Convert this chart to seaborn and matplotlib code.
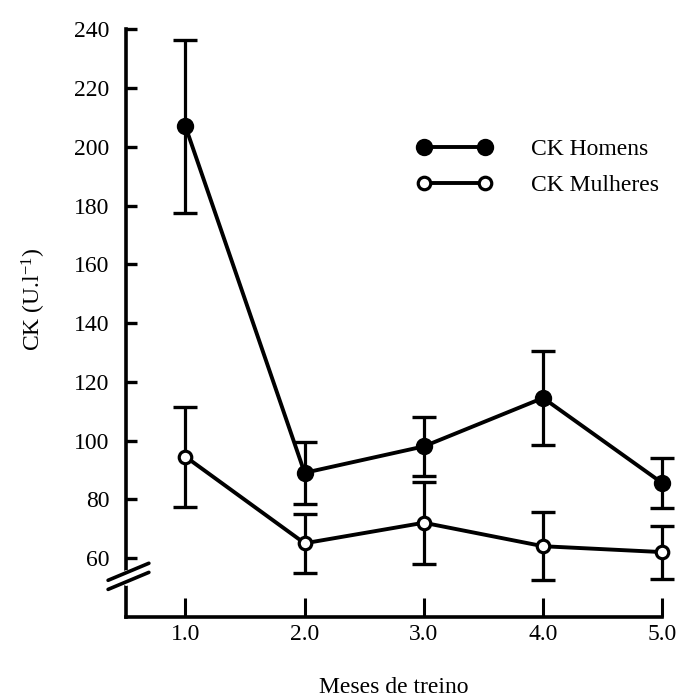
import numpy as np
import pandas as pd
import matplotlib
matplotlib.use("Agg")
import matplotlib.pyplot as plt
import matplotlib.transforms as mtransforms
from matplotlib.lines import Line2D
import seaborn as sns

# Creatine kinase over the training months
meses = [1.0, 2.0, 3.0, 4.0, 5.0]
ck_homens = [207, 89, 98, 114.5, 85.5]
ck_homens_err = [29.5, 10.5, 10, 16, 8.5]
ck_mulheres = [94.5, 65, 72, 64, 62]
ck_mulheres_err = [17, 10, 14, 11.5, 9]
y_ticks = [60, 80, 100, 120, 140, 160, 180, 200, 220, 240]
x_ticks = [1.0, 2.0, 3.0, 4.0, 5.0]

sns.set_theme(style="ticks")
plt.rcParams["font.family"] = ["Liberation Serif", "DejaVu Serif"]
plt.rcParams["mathtext.fontset"] = "custom"
plt.rcParams["mathtext.rm"] = "Liberation Serif"
plt.rcParams["mathtext.it"] = "Liberation Serif:italic"
plt.rcParams["text.color"] = "black"
plt.rcParams["axes.labelcolor"] = "black"
plt.rcParams["xtick.color"] = "black"
plt.rcParams["ytick.color"] = "black"
plt.rcParams["axes.edgecolor"] = "black"

df_h = pd.DataFrame({"mes": meses, "ck": ck_homens, "err": ck_homens_err})
df_m = pd.DataFrame({"mes": meses, "ck": ck_mulheres, "err": ck_mulheres_err})

fig = plt.figure(figsize=(6.8, 7.0), dpi=100)
ax = fig.add_axes([0.185, 0.119, 0.789, 0.839])

lw = 2.8
for d in (df_h, df_m):
    eb = ax.errorbar(d["mes"], d["ck"], yerr=d["err"], fmt="none",
                     ecolor="black", elinewidth=2.3, capsize=8.5,
                     capthick=2.4, zorder=2)
    for artist in eb.lines[1] + eb.lines[2]:
        artist.set_clip_on(False)

sns.lineplot(data=df_h, x="mes", y="ck", ax=ax, color="black", linewidth=lw,
             marker="o", markersize=11, markerfacecolor="black",
             markeredgecolor="black", markeredgewidth=1.5, label="CK Homens",
             zorder=3, clip_on=False)
sns.lineplot(data=df_m, x="mes", y="ck", ax=ax, color="black", linewidth=lw,
             marker="o", markersize=9, markerfacecolor="white",
             markeredgecolor="black", markeredgewidth=2.3, label="CK Mulheres",
             zorder=3, clip_on=False)

ax.set_xlim(0.5, 5.0)
ax.set_ylim(40, 240)
ax.set_xticks(x_ticks)
ax.set_xticklabels([f"{v:.1f}" for v in x_ticks])
ax.set_yticks(y_ticks)
ax.set_yticklabels([str(v) for v in y_ticks])

sns.despine(ax=ax)
for side in ("left", "bottom"):
    ax.spines[side].set_linewidth(2.6)
    ax.spines[side].set_color("black")
ax.tick_params(axis="y", direction="in", length=8, width=2.4, pad=12,
               labelsize=17)
ax.tick_params(axis="x", direction="in", length=14, width=2.2, pad=5,
               labelsize=17)

ax.set_xlabel("Meses de treino", fontsize=17, labelpad=23)
ax.set_ylabel(r"CK (U.l$^{-1}$)", fontsize=17)
ax.yaxis.set_label_coords(-0.145, 0.54)

# Axis break on the y axis
trans = mtransforms.blended_transform_factory(ax.transAxes, ax.transData)
ax.add_line(Line2D([0, 0], [51.8, 54.8], transform=trans, color="white",
                   linewidth=5, clip_on=False, zorder=4))
for y0 in (49.3, 52.4):
    ax.add_line(Line2D([-0.033, 0.043], [y0, y0 + 5.8], transform=trans,
                       color="black", linewidth=2.6, clip_on=False, zorder=5))

leg = ax.legend(loc="center", bbox_to_anchor=(0.768, 0.765), frameon=False,
                numpoints=2, handlelength=3.17, handletextpad=1.63,
                labelspacing=0.62, fontsize=17)

fig.savefig("out.png", dpi=100, facecolor="white")
